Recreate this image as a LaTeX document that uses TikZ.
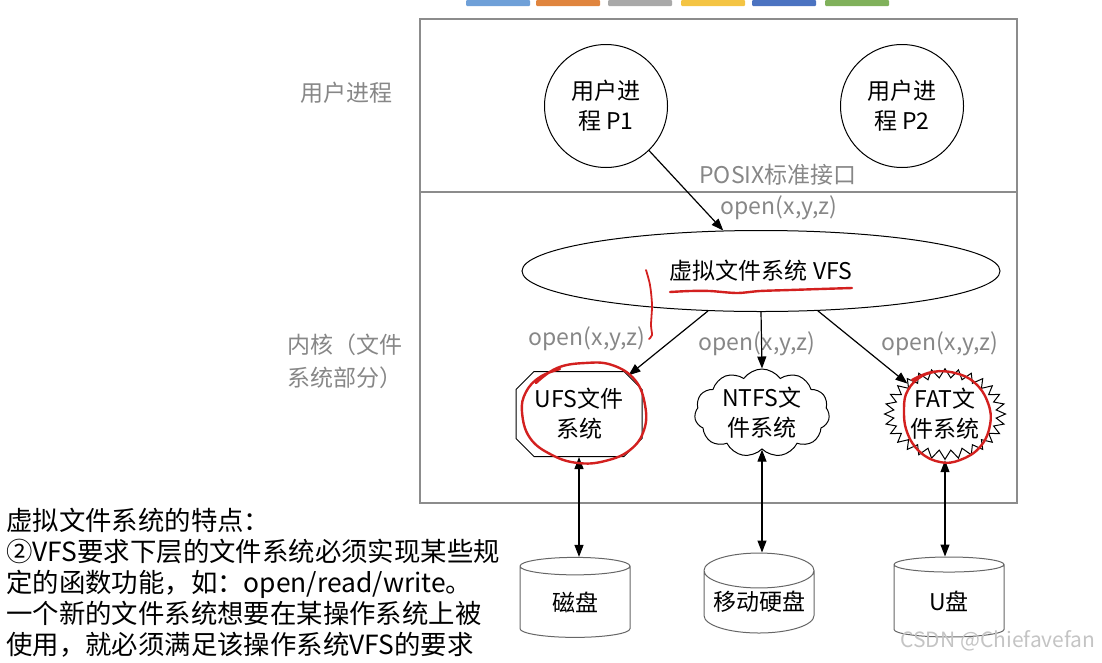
\documentclass[tikz,border=0pt]{standalone}
\usepackage{fontspec}
\setmainfont{Noto Sans CJK SC}
\usetikzlibrary{arrows.meta,positioning,shapes.geometric,shapes.misc,shapes.symbols}
\definecolor{framegray}{HTML}{8C8C8C}
\definecolor{labelgray}{HTML}{878787}
\definecolor{penred}{HTML}{D3201F}
\definecolor{markgray}{HTML}{C4C4C4}
\definecolor{barA}{HTML}{6FA0D8}
\definecolor{barB}{HTML}{E0853E}
\definecolor{barC}{HTML}{A9A9A9}
\definecolor{barD}{HTML}{F4C443}
\definecolor{barE}{HTML}{4B73C1}
\definecolor{barF}{HTML}{80B15B}
\tikzset{
  tip/.tip={Triangle[length=12pt,width=9pt]},
  link/.style={draw=black,line width=1.2pt,-tip},
  twoway/.style={draw=black,line width=1.2pt,tip-tip},
  frame/.style={draw=framegray,line width=1.4pt},
  graylabel/.style={text=labelgray},
  proc/.style={circle,draw,line width=1pt,minimum size=123pt},
  fsbox/.style={draw,line width=1pt,minimum width=126pt,minimum height=85pt},
  disk/.style={cylinder,shape border rotate=90,aspect=0.38,draw=black!60,line width=1pt,
    minimum width=110pt,minimum height=80pt},
  pen/.style={draw=penred,line width=2.4pt,line cap=round,line join=round}
}
\begin{document}
\begin{tikzpicture}[x=1pt,y=-1pt,
  every node/.style={font=\fontsize{23}{30}\selectfont,inner sep=0pt,align=center}]
\useasboundingbox (0,0) rectangle (1102,662);
% colour bars at the top
\foreach \x/\c in {466/barA,536/barB,608/barC,681/barD,752/barE,825/barF}
  \fill[\c,rounded corners=1pt] (\x,0) rectangle ++(64,6);
% frame of the two layers
\draw[frame] (420,19) rectangle (1017,503);
\draw[frame] (420,192) -- (1017,192);
\node[graylabel] (userlbl) at (346,93) {用户进程};
\node[graylabel,font=\fontsize{23}{33}\selectfont] (kernlbl) at (345,361) {内核（文件\\系统部分）};
% user processes
\node[proc] (P1) at (606,106) {用户进\\程 P1};
\node[proc] (P2) at (902,106) {用户进\\程 P2};
\node[graylabel] (posix) at (778,175) {POSIX标准接口};
\node[graylabel] (openP) at (779,208) {open(x,y,z)};
% VFS and the file systems below it
\node[ellipse,draw,line width=1pt,minimum width=478pt,minimum height=81pt] (vfs) at (761,271) {虚拟文件系统 VFS};
\node[fsbox,chamfered rectangle,chamfered rectangle xsep=9pt,chamfered rectangle ysep=9pt] (ufs) at (579,414) {UFS文件\\系统};
\node[fsbox,cloud,cloud puffs=11,cloud puff arc=110,minimum width=135pt,minimum height=88pt] (ntfs) at (762,413) {};
\node (ntfstext) at (ntfs) {NTFS文\\件系统};
\node[fsbox,starburst,starburst points=28,starburst point height=9pt,random starburst=0,
  minimum width=121pt,minimum height=83pt] (fat) at (945,414) {FAT文\\件系统};
\node[graylabel] (openL) at (587,339) {open(x,y,z)};
\node[graylabel] (openM) at (757,344) {open(x,y,z)};
\node[graylabel] (openR) at (940,344) {open(x,y,z)};
% devices
\node[disk] (hdd) at (575,602) {磁盘};
\node[disk] (mdisk) at (759,602) {移动硬盘};
\node[disk] (udisk) at (949,601) {U盘};
% connectors
\draw[link] (P1.-46) -- (vfs.133.5);
\draw[link] (vfs.-143) -- (ufs.38);
\draw[link] (vfs.south) -- (ntfs.north);
\draw[link] (vfs.-35.5) -- (fat.141);
\draw[twoway] (ufs.south) -- (ufs.south |- hdd.north);
\draw[twoway] (ntfs.south) -- (ntfs.south |- mdisk.north);
\draw[twoway] (fat.south) -- (fat.south |- udisk.north);
% notes
\node[anchor=north west,align=left,font=\fontsize{26.4}{31}\selectfont] (notes) at (6,508)
  {虚拟文件系统的特点：\\
   ②VFS要求下层的文件系统必须实现某些规\\
   定的函数功能，如：open/read/write。\\
   一个新的文件系统想要在某操作系统上被\\
   使用，就必须满足该操作系统VFS的要求};
\node[text=markgray,font=\fontsize{21}{24}\selectfont] (mark) at (998,641) {CSDN @Chiefavefan};
% red pen marks
\draw[pen] plot[smooth,tension=0.7] coordinates {(536,383) (557,368) (585,363) (612,365) (635,380)
  (645,405) (644,430) (630,450) (605,461) (578,463) (552,455) (530,438) (522,412) (526,392) (540,377) (560,369)};
\draw[pen] plot[smooth,tension=0.7] coordinates {(912,380) (932,372) (955,373) (975,383) (988,403)
  (990,425) (980,447) (960,460) (940,462) (920,452) (907,432) (904,408) (908,390) (922,376) (940,371)};
\draw[pen] plot[smooth] coordinates {(670,292) (690,291) (710,291) (737,293) (760,291) (790,290) (820,289) (852,288)};
\draw[pen,line width=1.8pt] plot[smooth] coordinates {(646,270) (650,285) (652,305) (651,325) (652,335) (649,339)};
\end{tikzpicture}
\end{document}
